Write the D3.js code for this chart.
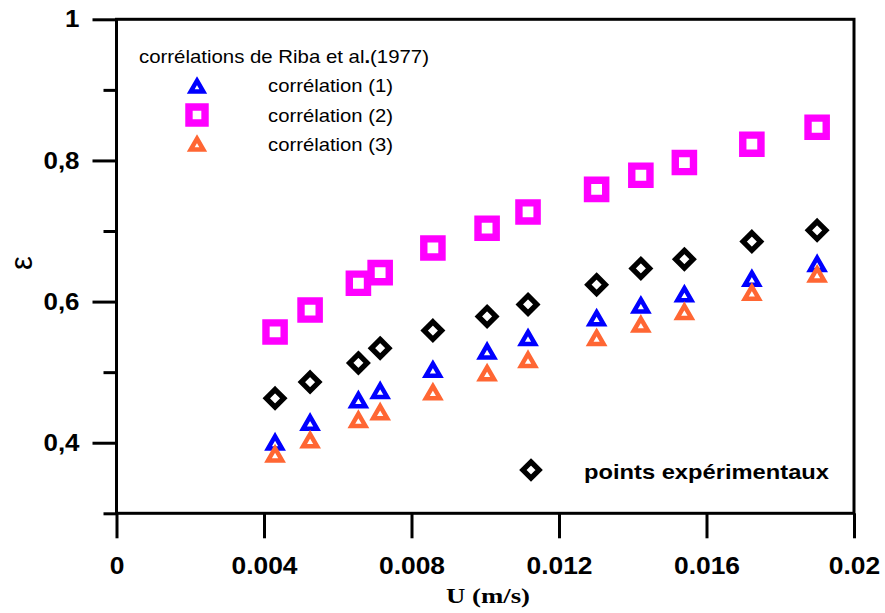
<!DOCTYPE html>
<html>
<head>
<meta charset="utf-8">
<script src="https://cdn.jsdelivr.net/npm/d3@7"></script>
<style>
  html, body { margin: 0; padding: 0; background: #fff; }
  svg { display: block; }
</style>
</head>
<body>
<svg id="chart" width="885" height="613"></svg>
<script>
// ---- data ----
const uValues = [0.0043, 0.00525, 0.00656, 0.00715, 0.00858, 0.01005, 0.01116, 0.01302, 0.01422, 0.0154, 0.01723, 0.0190];
const pointsExperimentaux = [0.463, 0.486, 0.513, 0.534, 0.559, 0.579, 0.596, 0.624, 0.647, 0.660, 0.685, 0.701];
const correlation1 = [0.402, 0.430, 0.462, 0.475, 0.505, 0.531, 0.550, 0.578, 0.596, 0.612, 0.634, 0.655];
const correlation2 = [0.557, 0.588, 0.626, 0.641, 0.676, 0.704, 0.727, 0.759, 0.779, 0.797, 0.823, 0.847];
const correlation3 = [0.385, 0.405, 0.434, 0.445, 0.473, 0.500, 0.519, 0.550, 0.569, 0.587, 0.614, 0.640];

const xTickValues = [0, 0.004, 0.008, 0.012, 0.016, 0.02];
const xTickLabels = ["0", "0.004", "0.008", "0.012", "0.016", "0.02"];
const yMajorTicks = [0.4, 0.6, 0.8, 1];
const yMajorLabels = ["0,4", "0,6", "0,8", "1"];
const yMinorTicks = [0.3, 0.5, 0.7, 0.9];

const legendTitle = "corrélations de Riba et al";
const legendTitleEnd = "(1977)";
const seriesNames = ["corrélation (1)", "corrélation (2)", "corrélation (3)"];
const expName = "points expérimentaux";
const xTitle = "U (m/s)";
const yTitle = "ε";

// ---- setup ----
const svg = d3.select("#chart");
const x = d3.scaleLinear().domain([0, 0.02]).range([116.5, 854]);
const y = d3.scaleLinear().domain([0.3, 1]).range([513.3, 19.3]);

function stretch(sel, k) {
  sel.each(function () {
    const w = this.getComputedTextLength();
    d3.select(this).attr("textLength", w * k).attr("lengthAdjust", "spacingAndGlyphs");
  });
}

// custom symbol types
const triType = {
  draw(ctx, size) {
    const w = Math.sqrt(size);
    const h = w * Math.sqrt(3) / 2;
    const off = 1.1;
    ctx.moveTo(0, -h / 2 + off);
    ctx.lineTo(w / 2, h / 2 + off);
    ctx.lineTo(-w / 2, h / 2 + off);
    ctx.closePath();
  }
};
const diamondType = {
  draw(ctx, size) {
    const d = Math.sqrt(size) / 2;
    ctx.moveTo(0, -d); ctx.lineTo(d, 0); ctx.lineTo(0, d); ctx.lineTo(-d, 0); ctx.closePath();
  }
};
const squareType = {
  draw(ctx, size) {
    const s = Math.sqrt(size) / 2;
    ctx.moveTo(-s, -s); ctx.lineTo(s, -s); ctx.lineTo(s, s); ctx.lineTo(-s, s); ctx.closePath();
  }
};

const styles = {
  c1: { type: triType, size: 14 * 14, color: "#0000FF", sw: 4.5 },
  c2: { type: squareType, size: 18.2 * 18.2, color: "#FF00FF", sw: 7.4 },
  c3: { type: triType, size: 14 * 14, color: "#FF6633", sw: 4.5 },
  exp: { type: diamondType, size: 17.5 * 17.5, color: "#000000", sw: 5.3 }
};

// ---- axes ----
const axisG = svg.append("g");

const yMajor = axisG.append("g")
  .attr("transform", `translate(${x(0)},0)`)
  .call(d3.axisLeft(y).tickValues(yMajorTicks).tickSize(24).tickPadding(13)
    .tickFormat((d, i) => yMajorLabels[i]));
const yMinor = axisG.append("g")
  .attr("transform", `translate(${x(0)},0)`)
  .call(d3.axisLeft(y).tickValues(yMinorTicks).tickSize(13).tickFormat(""));
const xAxis = axisG.append("g")
  .attr("transform", `translate(0,${y(0.3)})`)
  .call(d3.axisBottom(x).tickValues(xTickValues).tickSize(25)
    .tickFormat((d, i) => xTickLabels[i]));

[yMajor, yMinor, xAxis].forEach(g => {
  g.select(".domain").remove();
  g.selectAll(".tick line").attr("stroke", "#000").attr("stroke-width", 3);
});
yMajor.selectAll(".tick text")
  .attr("font-family", "Liberation Sans, Arial, sans-serif")
  .attr("font-weight", "bold").attr("font-size", 24).attr("fill", "#000");
xAxis.selectAll(".tick text")
  .attr("font-family", "Liberation Sans, Arial, sans-serif")
  .attr("font-weight", "bold").attr("font-size", 24).attr("fill", "#000")
  .attr("y", 60.7).attr("dy", 0);
stretch(yMajor.selectAll(".tick text"), 1.08);
stretch(xAxis.selectAll(".tick text"), 1.1);

// frame
axisG.append("rect")
  .attr("x", x(0)).attr("y", y(1))
  .attr("width", x(0.02) - x(0)).attr("height", y(0.3) - y(1))
  .attr("fill", "none").attr("stroke", "#000").attr("stroke-width", 3);

// ---- series ----
function drawSeries(vals, st) {
  const sym = d3.symbol().type(st.type).size(st.size);
  svg.append("g").selectAll("path")
    .data(vals.map((v, i) => [uValues[i], v]))
    .join("path")
    .attr("transform", d => `translate(${x(d[0])},${y(d[1])})`)
    .attr("d", sym)
    .attr("fill", "none")
    .attr("stroke", st.color)
    .attr("stroke-width", st.sw)
    .attr("stroke-linejoin", "miter")
    .attr("stroke-miterlimit", 10);
}
drawSeries(correlation2, styles.c2);
drawSeries(pointsExperimentaux, styles.exp);
drawSeries(correlation1, styles.c1);
drawSeries(correlation3, styles.c3);

// ---- legend ----
const lg = svg.append("g").attr("font-family", "Liberation Sans, Arial, sans-serif").attr("fill", "#000");
const tTitle = lg.append("text").attr("x", 139).attr("y", 63).attr("font-size", 18.5);
tTitle.append("tspan").text(legendTitle);
tTitle.append("tspan").attr("font-weight", "bold").text(".");
tTitle.append("tspan").text(legendTitleEnd);
tTitle.attr("textLength", 290).attr("lengthAdjust", "spacingAndGlyphs");

const legItems = [styles.c1, styles.c2, styles.c3];
const legMarkY = [85, 115, 143];
const legTextY = [92, 122, 151];
legItems.forEach((st, i) => {
  lg.append("path")
    .attr("transform", `translate(197,${legMarkY[i]})`)
    .attr("d", d3.symbol().type(st.type).size(st.size * (st.type === triType ? 0.8 : 0.78))())
    .attr("fill", "none").attr("stroke", st.color).attr("stroke-width", st.sw)
    .attr("stroke-linejoin", "miter");
  lg.append("text").attr("x", 268).attr("y", legTextY[i]).attr("font-size", 18.5)
    .attr("textLength", 125).attr("lengthAdjust", "spacingAndGlyphs")
    .text(seriesNames[i]);
});

lg.append("path")
  .attr("transform", "translate(531,470)")
  .attr("d", d3.symbol().type(diamondType).size(styles.exp.size * 0.85)())
  .attr("fill", "none").attr("stroke", "#000").attr("stroke-width", styles.exp.sw)
  .attr("stroke-linejoin", "miter");
lg.append("text").attr("x", 584).attr("y", 479).attr("font-size", 21).attr("font-weight", "bold")
  .attr("textLength", 245).attr("lengthAdjust", "spacingAndGlyphs")
  .text(expName);

// ---- axis titles ----
svg.append("text")
  .attr("x", 446).attr("y", 603)
  .attr("font-family", "Liberation Serif, Times New Roman, serif")
  .attr("font-weight", "bold").attr("font-size", 22)
  .attr("textLength", 84).attr("lengthAdjust", "spacingAndGlyphs")
  .text(xTitle);

svg.append("text")
  .attr("transform", "translate(21,263) rotate(-90)")
  .attr("text-anchor", "middle").attr("dominant-baseline", "central")
  .attr("font-family", "Liberation Sans, Arial, sans-serif")
  .attr("font-size", 31)
  .text(yTitle);
</script>
</body>
</html>
